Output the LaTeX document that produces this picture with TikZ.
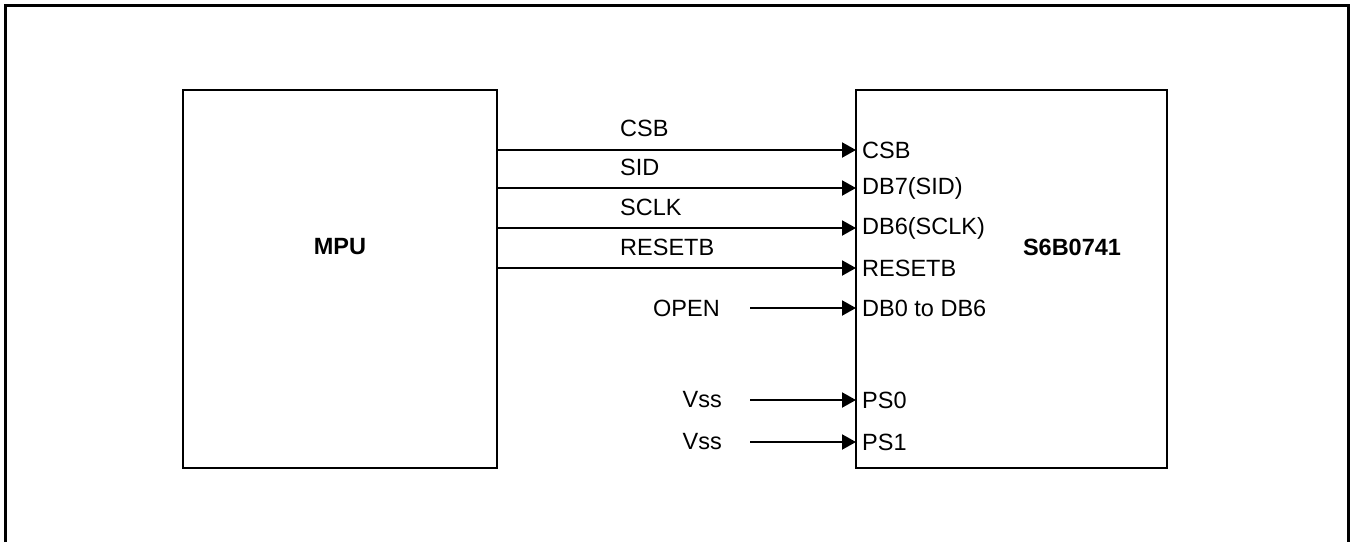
\documentclass[tikz,border=0pt]{standalone}
\usepackage{fontspec}
\setmainfont{Liberation Sans}
\usetikzlibrary{arrows.meta}
\begin{document}
\begin{tikzpicture}[x=1pt,y=-1pt,
  lbl/.style={inner sep=0pt,font=\fontsize{23.5}{25}\selectfont},
  blk/.style={draw,line width=2pt,inner sep=0pt},
  sig/.style={line width=2pt,-{Triangle[length=14pt,width=15pt]}}]
\useasboundingbox (0,0) rectangle (1356,542);
\draw[line width=3.5pt] (5.5,542) -- (5.5,5.5) -- (1348.5,5.5) -- (1348.5,542);
% boxes
\node[blk,minimum width=314pt,minimum height=378pt] (mpu) at (340,279) {};
\node[blk,minimum width=311pt,minimum height=378pt] (chip) at (1011.5,279) {};
\node[lbl,font=\fontsize{23.5}{25}\selectfont\bfseries] (mputxt) at (340,247) {MPU};
\node[lbl,font=\fontsize{23.5}{25}\selectfont\bfseries] (chiptxt) at (1072,247) {S6B0741};
% pins on chip
\foreach \n/\y/\t in {pcsb/150/CSB, psid/188/DB7(SID), psclk/228/DB6(SCLK), preset/268/RESETB, pdb/308/DB0 to DB6, pps0/400/PS0, pps1/442/PS1}{
  \coordinate (\n) at (856,\y);
  \node[lbl,anchor=west] (\n t) at (862,\y) {\t};
}
% mpu outputs
\foreach \n/\y in {ocsb/150, osid/188, osclk/228, oreset/268}{
  \coordinate (\n) at (497,\y);
}
\draw[sig] (ocsb) -- (pcsb);
\draw[sig] (osid) -- (psid);
\draw[sig] (osclk) -- (psclk);
\draw[sig] (oreset) -- (preset);
\node[lbl,anchor=west] (lcsb) at (620,128) {CSB};
\node[lbl,anchor=west] (lsid) at (620,167) {SID};
\node[lbl,anchor=west] (lsclk) at (620,207) {SCLK};
\node[lbl,anchor=west] (lreset) at (620,247) {RESETB};
% external inputs
\coordinate (iopen) at (750,308);
\coordinate (ivss0) at (750,400);
\coordinate (ivss1) at (750,442);
\draw[sig] (iopen) -- (pdb);
\draw[sig] (ivss0) -- (pps0);
\draw[sig] (ivss1) -- (pps1);
\node[lbl,anchor=east] (lopen) at (720,308) {OPEN};
\node[lbl,anchor=east] (lvss0) at (722,400) {Vss};
\node[lbl,anchor=east] (lvss1) at (722,442) {Vss};
\end{tikzpicture}
\end{document}
